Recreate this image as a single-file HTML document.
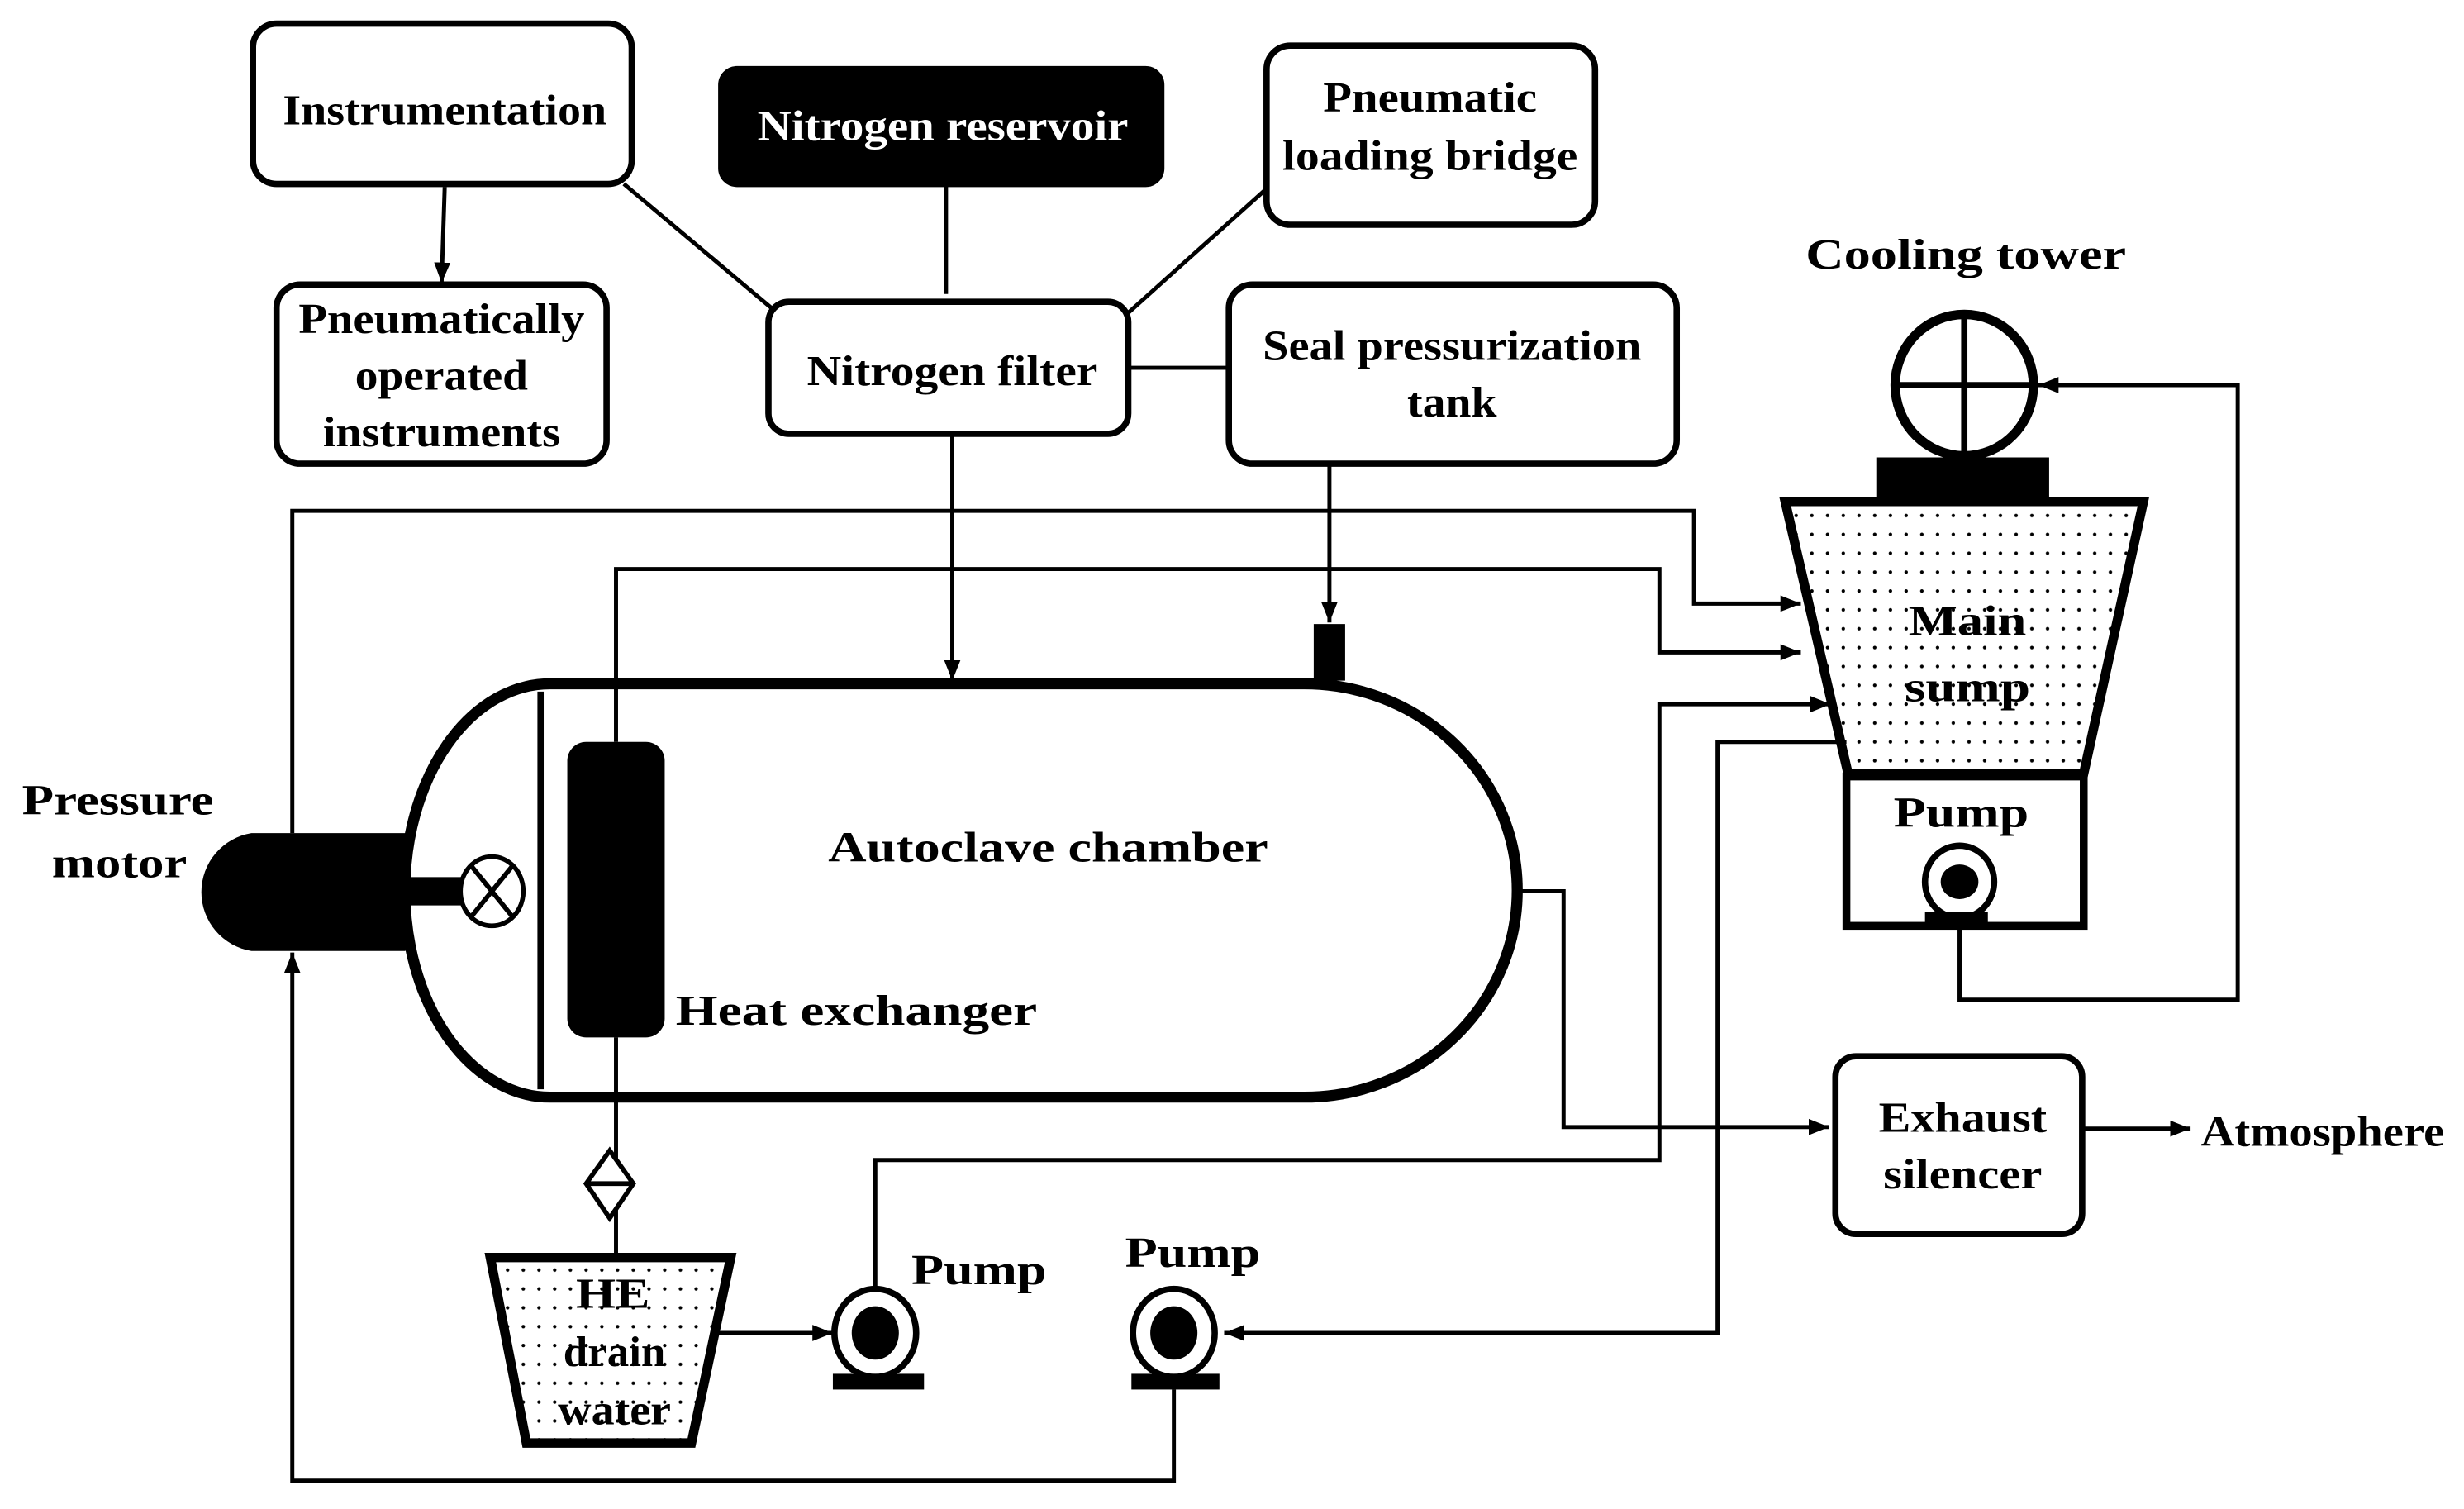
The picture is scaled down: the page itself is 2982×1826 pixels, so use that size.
<!DOCTYPE html>
<html><head><meta charset="utf-8"><style>
html,body{margin:0;padding:0;background:#fff}
svg{display:block}
text{font-family:"Liberation Serif",serif;font-size:27px;font-weight:bold;text-anchor:middle;fill:#000}
</style></head><body>
<svg width="2982" height="1826" viewBox="0 0 1568 960" preserveAspectRatio="none" xmlns="http://www.w3.org/2000/svg">
<defs>
<pattern id="dots" width="10" height="12" patternUnits="userSpaceOnUse"><circle cx="3" cy="4" r="1.1" fill="#000"/></pattern>
<marker id="ar" viewBox="0 0 10 10" refX="10" refY="5" markerWidth="5" markerHeight="5" orient="auto" markerUnits="strokeWidth"><path d="M0,1 L10,5 L0,9 z" fill="#000"/></marker>
</defs>
<g fill="none" stroke="#000" stroke-width="4">
<rect x="161" y="15" width="241" height="102" rx="15" fill="#fff"/>
<rect x="459" y="44" width="280" height="73" rx="10" fill="#000"/>
<rect x="806" y="29" width="209" height="114" rx="15"/>
<rect x="176" y="181" width="210" height="114" rx="15"/>
<rect x="489" y="192" width="229" height="84" rx="13"/>
<rect x="782" y="181" width="285" height="114" rx="15"/>
<rect x="1168" y="672" width="157" height="113" rx="13"/>
</g>
<g stroke="#000" stroke-width="2.6" fill="none">
<line x1="283" y1="119" x2="281" y2="180" marker-end="url(#ar)"/>
<line x1="397" y1="117" x2="491" y2="196"/>
<line x1="602" y1="117" x2="602" y2="187"/>
<line x1="806" y1="120" x2="718" y2="199"/>
<line x1="718" y1="234" x2="782" y2="234"/>
<line x1="606" y1="276" x2="606" y2="433" marker-end="url(#ar)"/>
<line x1="846" y1="295" x2="846" y2="396" marker-end="url(#ar)"/>
<polyline points="186,530 186,325 1078,325 1078,384 1146,384" marker-end="url(#ar)"/>
<polyline points="392,472 392,362 1056,362 1056,415 1146,415" marker-end="url(#ar)"/>
<polyline points="557,824 557,738 1056,738 1056,448 1165,448" marker-end="url(#ar)"/>
<polyline points="1175,472 1093,472 1093,848 779,848" marker-end="url(#ar)"/>
<polyline points="747,884 747,942 186,942 186,606" marker-end="url(#ar)"/>
<polyline points="965,567 995,567 995,717 1164,717" marker-end="url(#ar)"/>
<line x1="1325" y1="718" x2="1394" y2="718" marker-end="url(#ar)"/>
<line x1="457" y1="848" x2="530" y2="848" marker-end="url(#ar)"/>
<polyline points="1247,588 1247,636 1424,636 1424,245 1297,245" marker-end="url(#ar)"/>
<line x1="392" y1="660" x2="392" y2="800"/>
</g>
<rect x="836" y="397" width="20" height="36" fill="#000"/>
<path d="M350 435 H830 A135 131 0 0 1 830 698 H350 A92 131 0 0 1 350 435 Z" fill="none" stroke="#000" stroke-width="7"/>
<line x1="344" y1="440" x2="344" y2="693" stroke="#000" stroke-width="4"/>
<rect x="361" y="472" width="62" height="188" rx="12" fill="#000"/>
<path d="M258 530 H160 A38 38 0 0 0 160 605 H258 Z" fill="#000"/>
<rect x="256" y="558" width="38" height="18" fill="#000"/>
<ellipse cx="313" cy="567" rx="20" ry="22" fill="#fff" stroke="#000" stroke-width="3"/>
<path d="M300 551 L326 583 M326 551 L300 583" stroke="#000" stroke-width="3"/>
<path d="M388 732 L403 753 L388 775 L373 753 Z M373 753 H403" fill="#fff" stroke="#000" stroke-width="3"/>
<path d="M312 800 H465 L440 918 H335 Z" fill="url(#dots)" stroke="#000" stroke-width="6"/>
<g>
<ellipse cx="557" cy="848" rx="26" ry="28" fill="#fff" stroke="#000" stroke-width="4"/>
<ellipse cx="557" cy="848" rx="15" ry="17" fill="#000"/>
<rect x="530" y="874" width="58" height="10" fill="#000"/>
<ellipse cx="747" cy="848" rx="26" ry="28" fill="#fff" stroke="#000" stroke-width="4"/>
<ellipse cx="747" cy="848" rx="15" ry="17" fill="#000"/>
<rect x="720" y="874" width="56" height="10" fill="#000"/>
</g>
<ellipse cx="1250" cy="245" rx="44" ry="45" fill="none" stroke="#000" stroke-width="6"/>
<path d="M1250 200 V290 M1206 245 H1294" stroke="#000" stroke-width="4"/>
<rect x="1194" y="291" width="110" height="27" fill="#000"/>
<path d="M1136 319 H1364 L1326 492 H1176 Z" fill="url(#dots)" stroke="#000" stroke-width="6"/>
<rect x="1175" y="494" width="151" height="95" fill="none" stroke="#000" stroke-width="5"/>
<ellipse cx="1247" cy="561" rx="22" ry="23" fill="#fff" stroke="#000" stroke-width="4"/>
<ellipse cx="1247" cy="561" rx="12" ry="11" fill="#000"/>
<rect x="1225" y="580" width="40" height="9" fill="#000"/>
<g lengthAdjust="spacingAndGlyphs">
<text x="283" y="79" textLength="206" lengthAdjust="spacingAndGlyphs">Instrumentation</text>
<text x="600" y="89" textLength="236" lengthAdjust="spacingAndGlyphs" style="fill:#fff">Nitrogen reservoir</text>
<text x="910" y="71" textLength="136" lengthAdjust="spacingAndGlyphs">Pneumatic</text>
<text x="910" y="108" textLength="188" lengthAdjust="spacingAndGlyphs">loading bridge</text>
<text x="281" y="212" textLength="182" lengthAdjust="spacingAndGlyphs">Pneumatically</text>
<text x="281" y="248" textLength="110" lengthAdjust="spacingAndGlyphs">operated</text>
<text x="281" y="284" textLength="151" lengthAdjust="spacingAndGlyphs">instruments</text>
<text x="606" y="245" textLength="185" lengthAdjust="spacingAndGlyphs">Nitrogen filter</text>
<text x="924" y="229" textLength="241" lengthAdjust="spacingAndGlyphs">Seal pressurization</text>
<text x="924" y="265" textLength="57" lengthAdjust="spacingAndGlyphs">tank</text>
<text x="1251" y="171" font-size="29" textLength="204" lengthAdjust="spacingAndGlyphs">Cooling tower</text>
<text x="1252" y="404" font-size="29" textLength="75" lengthAdjust="spacingAndGlyphs">Main</text>
<text x="1252" y="446" font-size="29" textLength="80" lengthAdjust="spacingAndGlyphs">sump</text>
<text x="1248" y="526" font-size="29" textLength="86" lengthAdjust="spacingAndGlyphs">Pump</text>
<text x="75" y="518" font-size="29" textLength="122" lengthAdjust="spacingAndGlyphs">Pressure</text>
<text x="76" y="558" font-size="29" textLength="86" lengthAdjust="spacingAndGlyphs">motor</text>
<text x="667" y="548" font-size="30" textLength="280" lengthAdjust="spacingAndGlyphs">Autoclave chamber</text>
<text x="545" y="652" font-size="30" textLength="230" lengthAdjust="spacingAndGlyphs">Heat exchanger</text>
<text x="390" y="832" font-size="26" textLength="47" lengthAdjust="spacingAndGlyphs">HE</text>
<text x="391" y="869" font-size="26" textLength="65" lengthAdjust="spacingAndGlyphs">drain</text>
<text x="391" y="906" font-size="26" textLength="72" lengthAdjust="spacingAndGlyphs">water</text>
<text x="623" y="817" font-size="29" textLength="86" lengthAdjust="spacingAndGlyphs">Pump</text>
<text x="759" y="806" font-size="29" textLength="86" lengthAdjust="spacingAndGlyphs">Pump</text>
<text x="1249" y="720" textLength="107" lengthAdjust="spacingAndGlyphs">Exhaust</text>
<text x="1249" y="756" textLength="101" lengthAdjust="spacingAndGlyphs">silencer</text>
<text x="1478" y="729" font-size="26" textLength="155" lengthAdjust="spacingAndGlyphs">Atmosphere</text>
</g>
</svg>
</body></html>
